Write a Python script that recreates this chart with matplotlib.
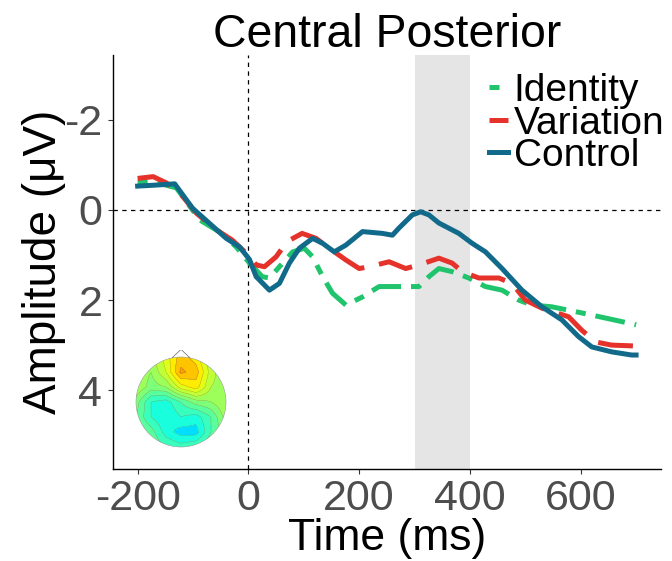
import numpy as np
import matplotlib
matplotlib.use("Agg")
import matplotlib.pyplot as plt
from matplotlib.patches import Circle, Polygon

plt.rcParams['font.family'] = ['Liberation Sans', 'DejaVu Sans']
plt.rcParams['axes.unicode_minus'] = False

# ---- data ----
t_identity = [-200, -170, -130, -88, -52, -22, 2, 25, 38, 56, 80, 101, 116, 134, 152, 176, 206, 236,
              272, 308, 326, 344, 368, 398, 428, 458, 488, 512, 548, 596, 645, 686, 700]
v_identity = [-0.62, -0.62, -0.49, 0.22, 0.49, 0.82, 1.18, 1.48, 1.51, 1.26, 0.93, 0.85, 1.04, 1.48, 1.85,
              2.11, 1.93, 1.70, 1.70, 1.70, 1.48, 1.30, 1.37, 1.51, 1.70, 1.78, 2.00, 2.11, 2.15, 2.27,
              2.40, 2.51, 2.55]

t_variation = [-200, -172, -148, -124, -94, -58, -29, -4, 14, 29, 50, 70, 97, 122, 146, 176, 200, 218,
               254, 284, 308, 344, 368, 386, 416, 452, 476, 500, 530, 578, 602, 627, 656, 700]
v_variation = [-0.70, -0.74, -0.60, -0.38, 0.07, 0.44, 0.67, 0.96, 1.22, 1.26, 1.04, 0.70, 0.52, 0.63,
               0.85, 1.11, 1.30, 1.26, 1.15, 1.30, 1.22, 1.07, 1.18, 1.37, 1.51, 1.51, 1.63, 2.00, 2.18,
               2.37, 2.67, 2.93, 3.00, 3.02]

t_control = [-200, -170, -133, -101, -70, -40, -16, 2, 14, 38, 56, 74, 92, 116, 134, 155, 176, 206,
             242, 260, 272, 296, 311, 326, 344, 380, 404, 428, 458, 494, 530, 566, 596, 620, 656, 692, 700]
v_control = [-0.53, -0.55, -0.58, -0.04, 0.30, 0.63, 0.82, 1.10, 1.48, 1.78, 1.63, 1.18, 0.85, 0.63,
             0.74, 0.93, 0.78, 0.48, 0.52, 0.56, 0.40, 0.11, 0.04, 0.11, 0.29, 0.52, 0.74, 0.93, 1.30,
             1.78, 2.15, 2.44, 2.81, 3.04, 3.15, 3.22, 3.22]

series_names = ["Identity", "Variation", "Control"]
x_ticks = [-200, 0, 200, 400, 600]
y_ticks = [-2, 0, 2, 4]
window = [300, 400]

# topographic map values (rows top->bottom, cols left->right), jet scale 0..1
topo_grid = np.array([
    [0.55, 0.55, 0.62, 0.70, 0.66, 0.56, 0.52],
    [0.56, 0.52, 0.60, 0.73, 0.70, 0.58, 0.52],
    [0.56, 0.50, 0.52, 0.62, 0.66, 0.56, 0.54],
    [0.50, 0.40, 0.38, 0.44, 0.50, 0.52, 0.56],
    [0.48, 0.40, 0.36, 0.40, 0.38, 0.44, 0.54],
    [0.50, 0.46, 0.38, 0.34, 0.34, 0.44, 0.50],
    [0.50, 0.48, 0.44, 0.42, 0.44, 0.48, 0.50],
])

# ---- figure ----
W, H = 672, 561
fig = plt.figure(figsize=(W / 100, H / 100), dpi=100)
L, R, T, B = 112.7, 661, 55, 469
ax = fig.add_axes([L / W, 1 - B / H, (R - L) / W, (B - T) / H])

colors = {"Identity": "#20C46C", "Variation": "#E5322A", "Control": "#126A8A"}
lw = 3.6

ax.axvspan(window[0], window[1], color="#E5E5E5", lw=0, zorder=0)
ax.axhline(0, color="black", lw=0.9, ls=(0, (3.5, 3.5)), zorder=1)
ax.axvline(0, color="black", lw=0.9, ls=(0, (3.5, 3.5)), zorder=1)

ax.plot(t_identity, v_identity, color=colors["Identity"], lw=lw, dashes=(2, 2, 6, 2),
        dash_capstyle="butt", dash_joinstyle="round", label="Identity", zorder=3)
ax.plot(t_variation, v_variation, color=colors["Variation"], lw=lw, dashes=(7, 3),
        dash_capstyle="butt", dash_joinstyle="round", label="Variation", zorder=4)
ax.plot(t_control, v_control, color=colors["Control"], lw=lw, solid_joinstyle="round",
        label="Control", zorder=5)

ax.set_xlim(-245, 745)
ax.set_ylim(5.75, -3.44)
ax.set_xticks(x_ticks)
ax.set_yticks(y_ticks)
ax.tick_params(axis="both", labelsize=31, labelcolor="#4D4D4D", color="#333333",
               length=3.5, width=0.8, pad=4)
for s in ["top", "right"]:
    ax.spines[s].set_visible(False)
for s in ["left", "bottom"]:
    ax.spines[s].set_linewidth(1.0)
    ax.spines[s].set_color("black")

ax.set_xlabel("Time (ms)", fontsize=32, color="black")
ax.xaxis.set_label_coords(0.5, -0.118)
ax.xaxis.label.set_va("top")
ax.set_ylabel("Amplitude (\u03bcV)", fontsize=33, color="black")
ax.yaxis.set_label_coords(-0.085, 0.5)

ax.text(0.5, 1.019, "Central Posterior", transform=ax.transAxes, ha="center",
        va="baseline", fontsize=33.4, color="black")

leg = ax.legend(loc="upper left", bbox_to_anchor=(489 / W, 1 - 73 / H),
                bbox_transform=fig.transFigure, frameon=False, fontsize=28,
                handlelength=0.5, handletextpad=0.13, labelspacing=-0.09,
                borderaxespad=0, borderpad=0)

# ---- topographic inset ----
cx, cy, r = 181, 402, 45
box = 52
tax = fig.add_axes([(cx - box) / W, 1 - (cy + box) / H, 2 * box / W, 2 * box / H])
tax.set_xlim(-box / r, box / r)
tax.set_ylim(-box / r, box / r)
tax.set_aspect("equal")
tax.axis("off")
n = topo_grid.shape[0]
g = np.linspace(-1, 1, n)
fine = np.linspace(-1, 1, 120)
tmp = np.array([np.interp(fine, g, row) for row in topo_grid])
up = np.array([np.interp(fine, g, col) for col in tmp.T]).T
X, Y = np.meshgrid(fine, fine[::-1])
levels = np.linspace(0.28, 0.80, 14)
cf = tax.contourf(X, Y, up, levels=levels, cmap="jet", vmin=0, vmax=1)
cl = tax.contour(X, Y, up, levels=levels, colors="#555555", linewidths=0.3, alpha=0.5)
clip = Circle((0, 0), 1.0, transform=tax.transData)
cf.set_clip_path(clip)
cl.set_clip_path(clip)
tax.add_patch(Circle((0, 0), 1.0, fill=False, ec="#9A9A9A", lw=0.4))
tax.add_patch(Polygon([[-0.2, 0.98], [0, 1.17], [0.2, 0.98]], closed=False, fill=False,
                      ec="#666666", lw=0.5))

fig.savefig("out.png", dpi=100)
